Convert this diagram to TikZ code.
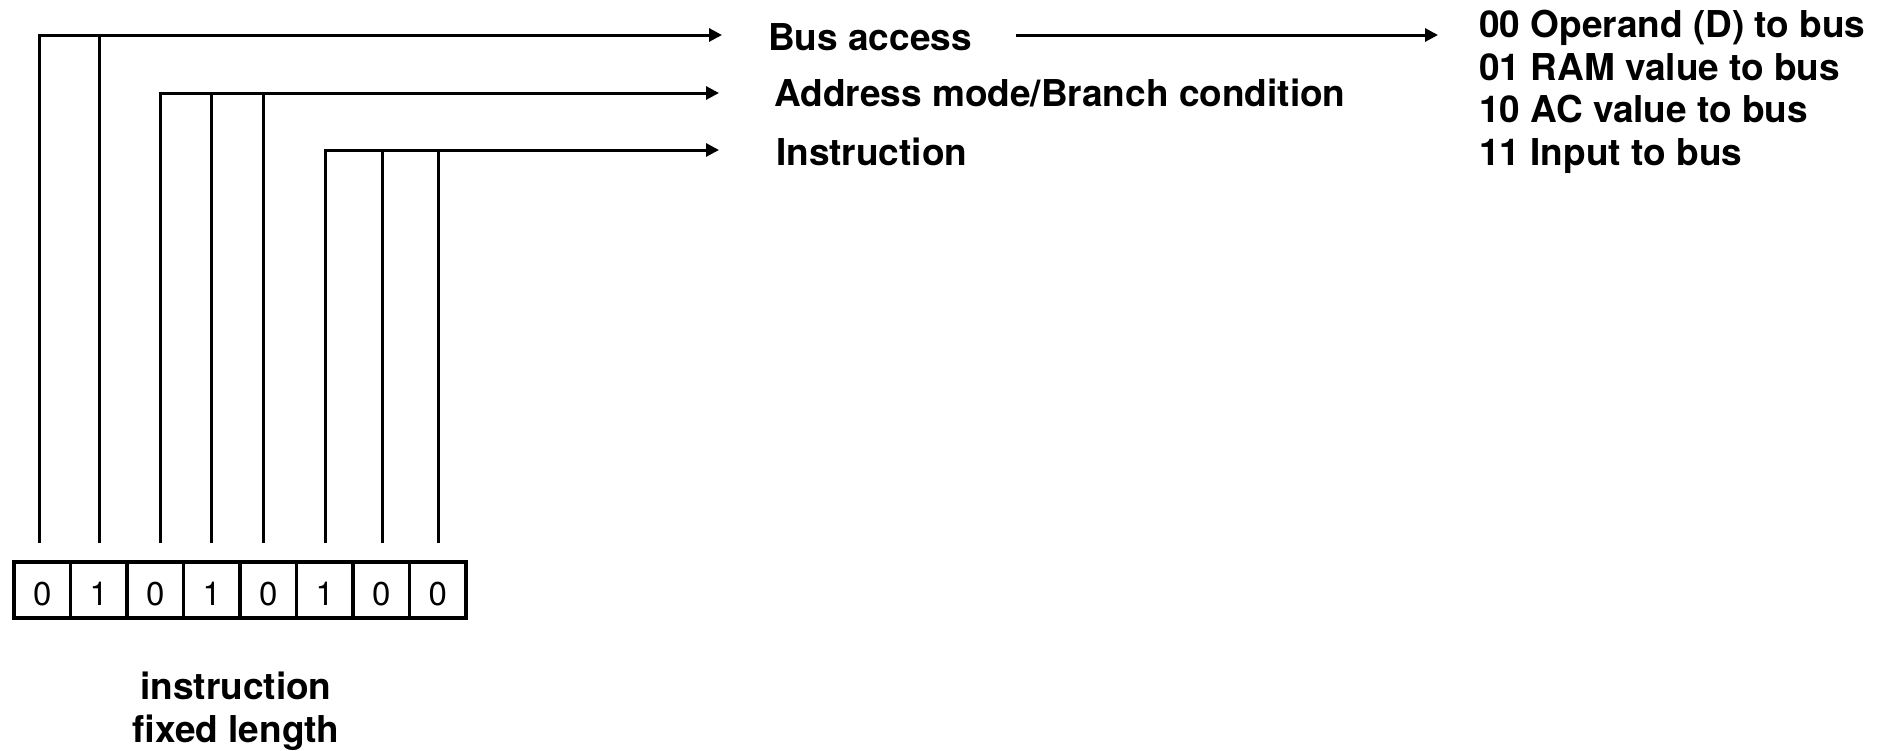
\documentclass[tikz,border=0pt]{standalone}
\usepackage{fontspec}
\setmainfont{TeX Gyre Heros}
\usetikzlibrary{arrows.meta}
\begin{document}
\begin{tikzpicture}[x=1pt,y=-1pt,
  wire/.style={line width=3pt,line join=miter},
  arr/.style={wire,-{Triangle[length=13pt,width=13pt]}},
  lbl/.style={font=\fontsize{37}{42}\selectfont\bfseries,inner sep=0pt,anchor=base west},
  bit/.style={draw,line width=3.6pt,minimum width=56.5pt,minimum height=56pt,inner sep=0pt,
    font=\fontsize{33}{36}\selectfont,text height=32pt,text depth=2pt},
  note/.style={font=\fontsize{37}{43}\selectfont\bfseries,align=center,inner sep=0pt,anchor=base}]
\useasboundingbox (0,0) rectangle (1892,750);

% the eight bits of the instruction word
\foreach \v [count=\i from 0] in {0,1,0,1,0,1,0,0}
  \node[bit] (b\i) at ({42.25+56.5*\i},590) {\v};

% field labels
\node[lbl] (bus)  at (768,50)  {Bus access};
\node[lbl] (addr) at (774,106) {Address mode/Branch condition};
\node[lbl] (ins)  at (776,165) {Instruction};

% bus access codes
\node[lbl] (c0) at (1479,37)  {00 Operand (D) to bus};
\node[lbl] (c1) at (1479,80)  {01 RAM value to bus};
\node[lbl] (c2) at (1479,122) {10 AC value to bus};
\node[lbl] (c3) at (1479,165) {11 Input to bus};

% caption below the word (base anchor sits on its last line)
\node[note] (cap) at (236,742) {instruction\\fixed length};

% bit line feet and arrow ends
\foreach \x [count=\i from 0] in {39,99,160,211,263,325,382,438}
  \coordinate (f\i) at (\x,543);
\coordinate (e0) at (722,35);
\coordinate (e1) at (719,93);
\coordinate (e2) at (719,150);
\coordinate (g0) at (1016,35);
\coordinate (g1) at (1438,35);

% bus access field: bits 0-1
\draw[arr] (f0) |- (e0);
\draw[wire] (f1) -- (f1 |- e0);
% address mode field: bits 2-4
\draw[arr] (f2) |- (e1);
\draw[wire] (f3) -- (f3 |- e1);
\draw[wire] (f4) -- (f4 |- e1);
% instruction field: bits 5-7
\draw[arr] (f5) |- (e2);
\draw[wire] (f6) -- (f6 |- e2);
\draw[wire] (f7) -- (f7 |- e2);

% bus access to its codes
\draw[arr] (g0) -- (g1);
\end{tikzpicture}
\end{document}
